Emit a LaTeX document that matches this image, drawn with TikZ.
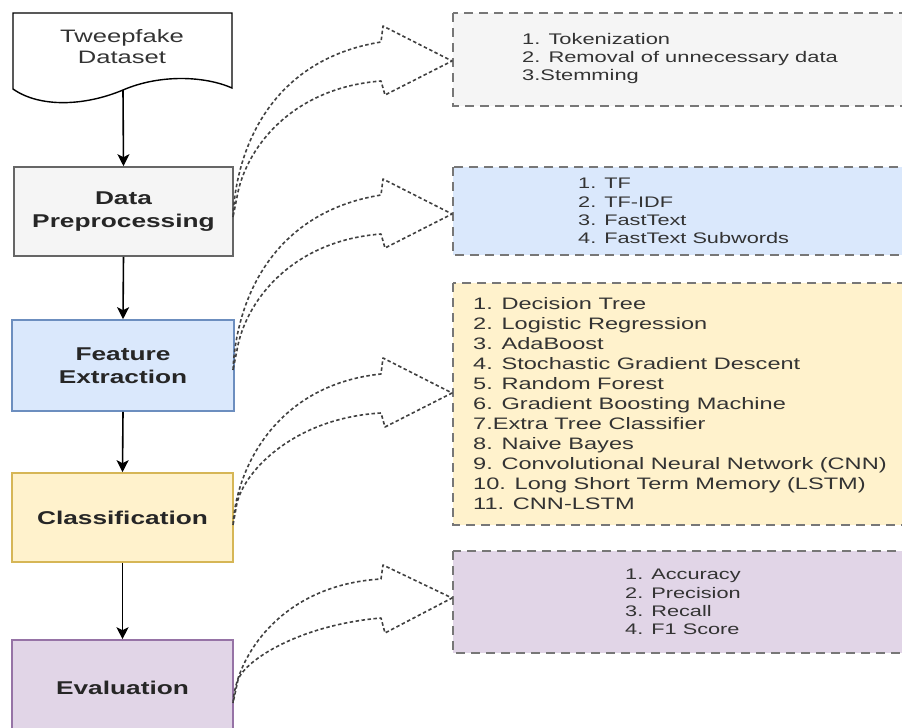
\documentclass[tikz,border=0pt]{standalone}
\usepackage{fontspec}
\setmainfont{Liberation Sans}[FakeStretch=1.42]
\usetikzlibrary{arrows.meta}
\definecolor{greyfill}{HTML}{F5F5F5}
\definecolor{greyline}{HTML}{666666}
\definecolor{bluefill}{HTML}{DAE8FC}
\definecolor{blueline}{HTML}{6C8EBF}
\definecolor{yellowfill}{HTML}{FFF2CC}
\definecolor{yellowline}{HTML}{D6B656}
\definecolor{purplefill}{HTML}{E1D5E7}
\definecolor{purpleline}{HTML}{9673A6}
\definecolor{txt}{HTML}{333333}
\definecolor{dashline}{HTML}{777777}
\tikzset{
  stagebox/.style={draw, line width=1.6pt, minimum width=#1, inner sep=0pt, align=center,
    font=\fontsize{18.5}{23.5}\selectfont\bfseries, text=black!85},
  listbox/.style={draw=dashline, line width=1.3pt, dash pattern=on 9pt off 6pt},
  listtext/.style={anchor=west, inner sep=0pt, align=left, text=txt},
  flowarrow/.style={line width=1.6pt, -{Stealth[length=12pt,width=12pt,inset=3pt]}},
  flexarrow/.style={draw=black!75, line width=1.6pt, dash pattern=on 3.5pt off 2.5pt, line join=round}
}
\begin{document}
\begin{tikzpicture}[x=1pt,y=-1pt]
\useasboundingbox (0,0) rectangle (902,728);
\clip (0,0) rectangle (902,728);
\fill[white] (0,0) rectangle (902,728);

% right dashed list boxes
\filldraw[listbox, fill=greyfill] (453,13) rectangle (910,106);
\filldraw[listbox, fill=bluefill] (453,167) rectangle (910,255);
\filldraw[listbox, fill=yellowfill] (453,283) rectangle (910,525);
\filldraw[listbox, fill=purplefill] (453,551) rectangle (910,653);

\node[listtext, font=\fontsize{15.4}{18}\selectfont] (t1) at (522,59) {1. Tokenization\\2. Removal of unnecessary data\\3.Stemming};
\node[listtext, font=\fontsize{15.3}{18.3}\selectfont] (t2) at (578,211) {1. TF\\2. TF-IDF\\3. FastText\\4. FastText Subwords};
\node[listtext, font=\fontsize{16.6}{20}\selectfont] (t3) at (473,404) {1. Decision Tree\\2. Logistic Regression\\3. AdaBoost\\4. Stochastic Gradient Descent\\5. Random Forest\\6. Gradient Boosting Machine\\7.Extra Tree Classifier\\8. Naive Bayes\\9. Convolutional Neural Network (CNN)\\10. Long Short Term Memory (LSTM)\\11. CNN-LSTM};
\node[listtext, font=\fontsize{15.3}{18.3}\selectfont] (t4) at (625,602) {1. Accuracy\\2. Precision\\3. Recall\\4. F1 Score};

% document shape
\filldraw[fill=white, draw=black, line width=1.4pt]
  (13,89) -- (13,13) -- (232,13) -- (232,88)
  .. controls (205,76) and (160,74) .. (123,90)
  .. controls (85,106) and (40,108) .. (13,89) -- cycle;
\node[align=center, inner sep=0pt, font=\fontsize{18}{21}\selectfont, text=black!80] (ds) at (122,47) {Tweepfake\\Dataset};
\coordinate (dsb) at (123,90);

% stage boxes
\node[stagebox=219pt, minimum height=89pt, fill=greyfill, draw=greyline] (pre) at (123.5,211.5) {Data\\Preprocessing};
\node[stagebox=222pt, minimum height=91pt, fill=bluefill, draw=blueline] (fe) at (123,365.5) {Feature\\Extraction};
\node[stagebox=221pt, minimum height=89pt, fill=yellowfill, draw=yellowline] (cl) at (122.5,517.5) {Classification};
\node[stagebox=221pt, minimum height=96pt, fill=purplefill, draw=purpleline] (ev) at (122.5,688) {Evaluation};

% vertical flow arrows
\draw[flowarrow] (dsb) -- (pre.north);
\draw[flowarrow] (pre.south) -- (fe.north);
\draw[flowarrow] (fe.south) -- (cl.north);
\draw[flowarrow] (cl.south) -- (ev.north);

% curved dashed block arrows
\draw[flexarrow] (233,217) .. controls (236,150) and (270,60) .. (381,42)
  -- (383,26) -- (452,61) -- (385,95) -- (381,81)
  .. controls (290,88) and (245,150) .. (237,197) -- cycle;
\draw[flexarrow] (233,370) .. controls (236,303) and (270,213) .. (381,195)
  -- (383,179) -- (452,214) -- (385,248) -- (381,234)
  .. controls (290,241) and (245,303) .. (237,350) -- cycle;
\draw[flexarrow] (233,525) .. controls (236,470) and (275,385) .. (381,374)
  -- (383,358) -- (452,393) -- (385,427) -- (381,413)
  .. controls (295,418) and (245,470) .. (237,503) -- cycle;
\draw[flexarrow] (233,703) .. controls (236,658) and (280,585) .. (381,579)
  -- (383,565) -- (452,598) -- (385,633) -- (381,618)
  .. controls (300,625) and (245,660) .. (238,680) -- cycle;
\end{tikzpicture}
\end{document}
